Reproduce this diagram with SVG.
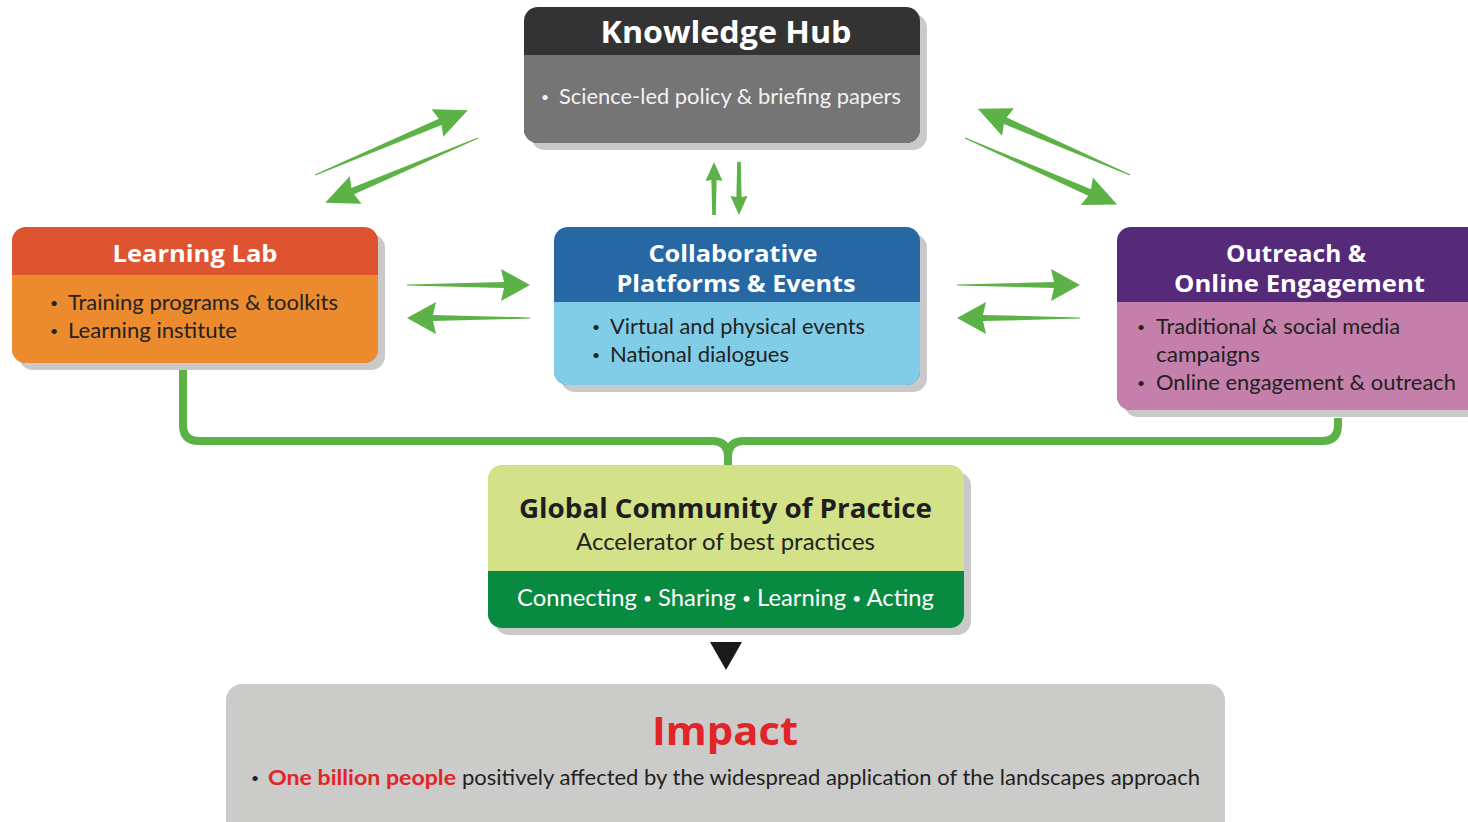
<svg xmlns="http://www.w3.org/2000/svg" width="1468" height="822" viewBox="0 0 1468 822">
<style>
.title{font-family:"Open Sans","DejaVu Sans",sans-serif;font-weight:700;fill:#ffffff;text-anchor:middle}
.body{font-family:Lato,"Open Sans",sans-serif;fill:#222222}
.bul{font-family:Lato,"Open Sans",sans-serif;fill:#222222;font-size:14px}
.shadow{fill:#c9c9c9}
.arrow{fill:#5cb246}
.conn{fill:none;stroke:#5cb246;stroke-width:8;stroke-linejoin:round}
</style>
<defs>
<polygon id="ah" points="0,-0.6 97,-3 94,-16 123,0 94,16 97,3 0,0.6"/>
<polygon id="ad" points="0,-0.6 136,-3.5 133,-15 166,0 133,15 136,3.5 0,0.6"/>
<polygon id="av" points="0,-1.8 35,-2.6 34,-8.5 53,0 34,8.5 35,2.6 0,1.8"/>
</defs>
<rect width="1468" height="822" fill="#ffffff"/>

<g id="connectors">
<path class="conn" d="M183,370 V425 Q183,441 199,441 H712 Q728,441 728,457 V466"/>
<path class="conn" d="M1338,418 V425 Q1338,441 1322,441 H744 Q728,441 728,457"/>
<g class="arrow">
<use href="#ad" transform="translate(315,175) rotate(-23)"/>
<use href="#ad" transform="translate(478,138) rotate(157)"/>
<use href="#ad" transform="translate(1130,175) rotate(-156.5)"/>
<use href="#ad" transform="translate(965,138) rotate(23.6)"/>
<use href="#av" transform="translate(714,215) rotate(-90)"/>
<use href="#av" transform="translate(739,162) rotate(90)"/>
<use href="#ah" transform="translate(407,285)"/>
<use href="#ah" transform="translate(530,318) rotate(180)"/>
<use href="#ah" transform="translate(957,285)"/>
<use href="#ah" transform="translate(1080,318) rotate(180)"/>
</g>
<polygon points="710,642 742,642 726,670" fill="#1a1a1a"/>
</g>

<g id="knowledge-hub">
<rect class="shadow" x="531" y="14" width="396" height="136" rx="14"/>
<rect x="524" y="7" width="396" height="136" rx="14" fill="#333333"/>
<path d="M524,55 H920 V129 A14,14 0 0 1 906,143 H538 A14,14 0 0 1 524,129 Z" fill="#757575"/>
<text class="title" x="726" y="43" font-size="30" textLength="251" lengthAdjust="spacingAndGlyphs">Knowledge Hub</text>
<text class="bul" x="541" y="102" style="fill:#f2f2f2">•</text>
<text class="body" x="559" y="104" font-size="21" style="fill:#f2f2f2" textLength="342" lengthAdjust="spacingAndGlyphs">Science-led policy &amp; briefing papers</text>
</g>

<g id="learning-lab">
<rect class="shadow" x="19" y="234" width="366" height="136" rx="14"/>
<rect x="12" y="227" width="366" height="136" rx="14" fill="#de5330"/>
<path d="M12,275 H378 V349 A14,14 0 0 1 364,363 H26 A14,14 0 0 1 12,349 Z" fill="#eb8b2e"/>
<text class="title" x="195" y="262" font-size="24" textLength="165" lengthAdjust="spacingAndGlyphs">Learning Lab</text>
<text class="bul" x="50" y="308">•</text>
<text class="body" x="68" y="310" font-size="21" textLength="270" lengthAdjust="spacingAndGlyphs">Training programs &amp; toolkits</text>
<text class="bul" x="50" y="336">•</text>
<text class="body" x="68" y="338" font-size="21" textLength="169" lengthAdjust="spacingAndGlyphs">Learning institute</text>
</g>

<g id="collaborative-platforms">
<rect class="shadow" x="561" y="234" width="366" height="158" rx="14"/>
<rect x="554" y="227" width="366" height="158" rx="14" fill="#2767a4"/>
<path d="M554,302 H920 V371 A14,14 0 0 1 906,385 H568 A14,14 0 0 1 554,371 Z" fill="#81cde7"/>
<text class="title" x="733" y="262" font-size="24" textLength="169" lengthAdjust="spacingAndGlyphs">Collaborative</text>
<text class="title" x="736" y="292" font-size="24" textLength="239" lengthAdjust="spacingAndGlyphs">Platforms &amp; Events</text>
<text class="bul" x="592" y="332">•</text>
<text class="body" x="610" y="334" font-size="21" textLength="255" lengthAdjust="spacingAndGlyphs">Virtual and physical events</text>
<text class="bul" x="592" y="360">•</text>
<text class="body" x="610" y="362" font-size="21" textLength="179" lengthAdjust="spacingAndGlyphs">National dialogues</text>
</g>

<g id="outreach">
<rect class="shadow" x="1124" y="234" width="366" height="183" rx="14"/>
<rect x="1117" y="227" width="366" height="183" rx="14" fill="#552a79"/>
<path d="M1117,302 H1483 V396 A14,14 0 0 1 1469,410 H1131 A14,14 0 0 1 1117,396 Z" fill="#c480ab"/>
<text class="title" x="1296" y="262" font-size="24" textLength="140" lengthAdjust="spacingAndGlyphs">Outreach &amp;</text>
<text class="title" x="1299.5" y="292" font-size="24" textLength="251" lengthAdjust="spacingAndGlyphs">Online Engagement</text>
<text class="bul" x="1137" y="332">•</text>
<text class="body" x="1156" y="334" font-size="21" textLength="244" lengthAdjust="spacingAndGlyphs">Traditional &amp; social media</text>
<text class="body" x="1156" y="362" font-size="21" textLength="104" lengthAdjust="spacingAndGlyphs">campaigns</text>
<text class="bul" x="1137" y="388">•</text>
<text class="body" x="1156" y="390" font-size="21" textLength="300" lengthAdjust="spacingAndGlyphs">Online engagement &amp; outreach</text>
</g>

<g id="global-community">
<rect class="shadow" x="495" y="472" width="476" height="163" rx="14"/>
<rect x="488" y="465" width="476" height="163" rx="14" fill="#d3e188"/>
<path d="M488,571 H964 V614 A14,14 0 0 1 950,628 H502 A14,14 0 0 1 488,614 Z" fill="#088a41"/>
<text class="title" x="725.5" y="518" font-size="26" style="fill:#1e1e1e" textLength="413" lengthAdjust="spacingAndGlyphs">Global Community of Practice</text>
<text class="body" x="725.5" y="550" font-size="23" text-anchor="middle" textLength="299" lengthAdjust="spacingAndGlyphs">Accelerator of best practices</text>
<text class="body" x="725.5" y="606" font-size="23" text-anchor="middle" style="fill:#ffffff" textLength="417" lengthAdjust="spacingAndGlyphs">Connecting <tspan font-size="15" dy="-2">•</tspan><tspan dy="2"> Sharing </tspan><tspan font-size="15" dy="-2">•</tspan><tspan dy="2"> Learning </tspan><tspan font-size="15" dy="-2">•</tspan><tspan dy="2"> Acting</tspan></text>
</g>

<g id="impact">
<rect x="226" y="684" width="999" height="160" rx="16" fill="#cbcbc9"/>
<text class="title" x="725" y="745" font-size="40" style="fill:#e0242a" textLength="146" lengthAdjust="spacingAndGlyphs">Impact</text>
<text class="bul" x="251" y="783">•</text>
<text class="body" x="268" y="785" font-size="21" font-weight="700" style="fill:#e0242a" textLength="188" lengthAdjust="spacingAndGlyphs">One billion people</text>
<text class="body" x="462" y="785" font-size="21" textLength="738" lengthAdjust="spacingAndGlyphs">positively affected by the widespread application of the landscapes approach</text>
</g>
</svg>
